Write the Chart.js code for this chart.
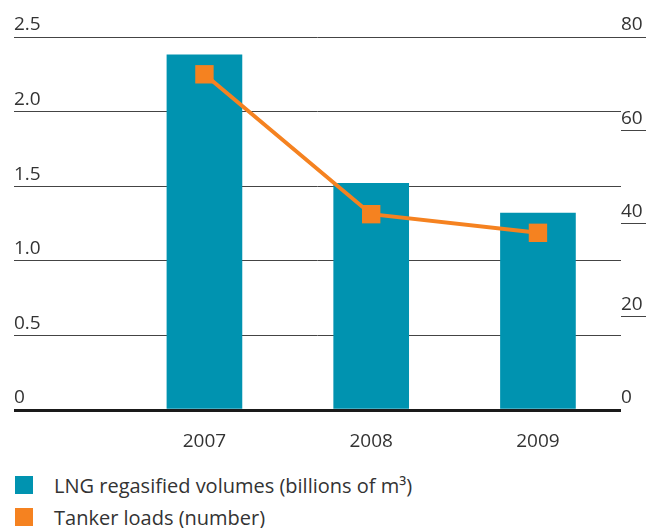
<!DOCTYPE html>
<html>
<head>
<meta charset="utf-8">
<script src="https://cdn.jsdelivr.net/npm/chart.js@4"></script>
<style>
  body { margin: 0; background: #fff; font-family: 'Open Sans', sans-serif; }
  #wrap { position: relative; width: 647px; height: 460px; }
  #legend { list-style: none; margin: 0; padding: 0; position: absolute; left: 15px; top: 469px; color: #333; font-size: 20px; }
  #legend li { display: flex; align-items: center; height: 32px; }
  #legend .box { width: 18px; height: 18px; margin-right: 21px; }
</style>
</head>
<body>
<div id="wrap"><canvas id="lngChart"></canvas></div>
<ul id="legend"></ul>
<script>
// Data
const years = [2007, 2008, 2009];
const lngVolumes = [2.38, 1.52, 1.32];   // billions of m3
const tankerLoads = [72, 42, 38];        // number of loads
const volumeTicks = [0, 0.5, 1, 1.5, 2, 2.5];
const loadTicks = [0, 20, 40, 60, 80];

const TEAL = '#0093b0';
const ORANGE = '#f58220';

Chart.defaults.font.family = "'Open Sans', sans-serif";
Chart.defaults.font.size = 19;
Chart.defaults.color = '#333';

const ctx = document.getElementById('lngChart').getContext('2d');
const lngChart = new Chart(ctx, {
  type: 'bar',
  data: {
    datasets: [
      {
        label: 'LNG regasified volumes (billions of m³)',
        data: years.map((y, i) => ({ x: y, y: lngVolumes[i] })),
        backgroundColor: TEAL,
        barThickness: 75,
        yAxisID: 'y',
        order: 1
      },
      {
        type: 'line',
        label: 'Tanker loads (number)',
        data: years.map((y, i) => ({ x: y, y: tankerLoads[i] })),
        borderColor: ORANGE,
        backgroundColor: ORANGE,
        borderWidth: 4,
        pointStyle: 'rect',
        pointRadius: 13,
        pointBorderWidth: 0,
        yAxisID: 'y1',
        order: 0
      }
    ]
  },
  options: {
    responsive: true,
    maintainAspectRatio: false,
    animation: false,
    layout: { padding: { top: 37, left: 0, right: 0, bottom: 0 } },
    plugins: { legend: { display: false }, tooltip: { enabled: false } },
    scales: {
      x: {
        type: 'linear',
        min: 2005.858,
        max: 2009.498,
        offset: false,
        grid: { display: false, offset: false },
        border: { display: false },
        afterBuildTicks: axis => { axis.ticks = years.map(v => ({ value: v })); },
        afterFit: axis => { axis.height = 50; },
        ticks: { padding: 12, callback: v => String(v) }
      },
      y: {
        position: 'left',
        min: 0,
        max: 2.5,
        afterBuildTicks: axis => { axis.ticks = volumeTicks.map(v => ({ value: v })); },
        afterFit: axis => { axis.width = 14; },
        border: { display: false },
        grid: {
          drawTicks: false,
          color: c => c.tick.value === 0 ? '#1a1a1a' : '#444',
          lineWidth: c => c.tick.value === 0 ? 3 : 1
        },
        ticks: {
          mirror: true,
          padding: 0,
          labelOffset: -12,
          callback: v => v === 0 ? '0' : v.toFixed(1)
        }
      },
      y1: {
        position: 'right',
        min: 0,
        max: 80,
        afterBuildTicks: axis => { axis.ticks = loadTicks.map(v => ({ value: v })); },
        afterFit: axis => { axis.width = 26; },
        border: { display: false },
        grid: {
          drawOnChartArea: false,
          drawTicks: true,
          tickLength: 25,
          tickColor: c => c.tick.value === 0 ? 'rgba(0,0,0,0)' : '#444',
          tickWidth: 1
        },
        ticks: { padding: -25, labelOffset: -12 }
      }
    }
  }
});

// Legend built from the chart's datasets
const legend = document.getElementById('legend');
lngChart.data.datasets.forEach(ds => {
  const li = document.createElement('li');
  li.innerHTML = `<span class="box" style="background:${ds.backgroundColor}"></span>${ds.label}`;
  legend.appendChild(li);
});
</script>
</body>
</html>
